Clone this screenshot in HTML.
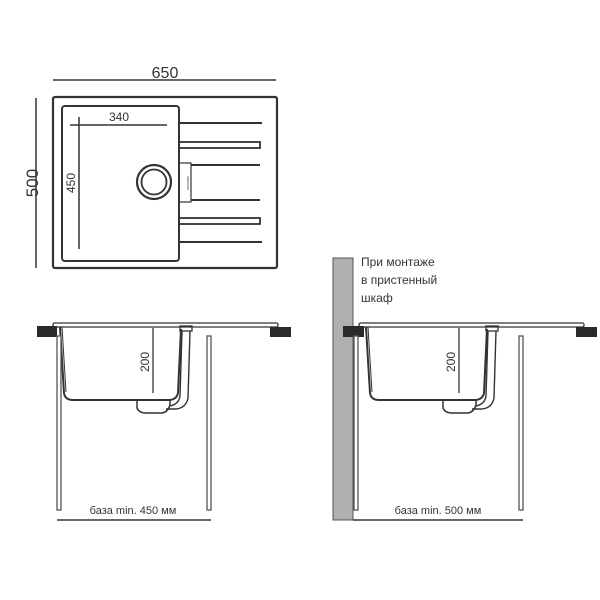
<!DOCTYPE html>
<html><head><meta charset="utf-8"><style>
html,body{margin:0;padding:0;background:#fff;width:600px;height:600px;overflow:hidden}
svg{display:block}
text{font-family:"Liberation Sans",sans-serif;fill:#333}
</style></head><body>
<svg width="600" height="600" viewBox="0 0 600 600" xmlns="http://www.w3.org/2000/svg">
<g stroke="#333" fill="none">
<!-- top view -->
<line x1="53" y1="80" x2="276" y2="80" stroke-width="1.5"/>
<line x1="36" y1="98" x2="36" y2="268" stroke-width="1.5"/>
<rect x="53" y="97" width="224" height="171" rx="2" stroke-width="2.2"/>
<rect x="62" y="106" width="117" height="155" rx="3" stroke-width="2"/>
<line x1="70" y1="125" x2="167" y2="125" stroke-width="1.5"/>
<line x1="79" y1="117" x2="79" y2="249" stroke-width="1.5"/>
<circle cx="154" cy="182" r="17" stroke-width="2.2"/>
<circle cx="154" cy="182" r="12.5" stroke-width="1.8"/>
<line x1="179" y1="123" x2="262" y2="123" stroke-width="2"/>
<rect x="179" y="142" width="81" height="6" stroke-width="1.8"/>
<line x1="191" y1="165" x2="260" y2="165" stroke-width="2"/>
<rect x="179" y="163" width="12" height="39" stroke-width="1.2"/>
<line x1="191" y1="200" x2="260" y2="200" stroke-width="2"/>
<rect x="179" y="218" width="81" height="6" stroke-width="1.8"/>
<line x1="179" y1="242" x2="262" y2="242" stroke-width="2"/>
</g>
<text x="165" y="78" font-size="16" text-anchor="middle">650</text>
<text transform="translate(38,183) rotate(-90)" font-size="17" text-anchor="middle">500</text>
<text x="119" y="121" font-size="12" text-anchor="middle">340</text>
<text transform="translate(75,183) rotate(-90)" font-size="12" text-anchor="middle">450</text>
<text transform="translate(187,183) rotate(90)" font-size="3" text-anchor="middle">OMOIKIRI</text>

<!-- side view left -->
<g id="side" stroke="#333" fill="none">
<rect x="53" y="323" width="225" height="4" rx="1.5" stroke-width="1.3"/>
<rect x="37" y="326" width="20" height="11" fill="#2a2a2a" stroke="none"/>
<rect x="270" y="327" width="21" height="10" fill="#2a2a2a" stroke="none"/>
<path d="M60 327 L64 393 Q65 400 73 400 L170 400 Q177 399 178 393 L181 329" stroke-width="2"/>
<path d="M62 327 L66 392" stroke-width="1"/>
<path d="M137 401 L137 408 Q139 413 146 413 L162 413 Q168 412 170 405 L170 401" stroke-width="1.5"/>
<rect x="180" y="326" width="12" height="5" stroke-width="1.3"/>
<path d="M182 331 L180 396 Q179 404 170 406 M190 331 L188 398 Q186 408 176 409 L166 409" stroke-width="1.4"/>
<line x1="153" y1="328" x2="153" y2="393" stroke-width="1.3"/>
</g>
<text transform="translate(149,362) rotate(-90)" font-size="12" text-anchor="middle">200</text>
<g stroke="#555" fill="#fff" stroke-width="1.3">
<rect x="57" y="336" width="4" height="174"/>
<rect x="207" y="336" width="4" height="174"/>
</g>
<line x1="57" y1="520" x2="211" y2="520" stroke="#333" stroke-width="1.5"/>
<text x="133" y="514" font-size="11" text-anchor="middle">база min. 450 мм</text>

<!-- right view -->
<rect x="333" y="258" width="20" height="262" fill="#b0b0b0" stroke="#555" stroke-width="1"/>
<use href="#side" transform="translate(306,0)"/>
<rect x="350" y="326" width="14" height="11" fill="#2a2a2a"/>
<text transform="translate(455,362) rotate(-90)" font-size="12" text-anchor="middle">200</text>
<g stroke="#555" fill="#fff" stroke-width="1.3">
<rect x="354" y="336" width="4" height="174"/>
<rect x="519" y="336" width="4" height="174"/>
</g>
<line x1="353" y1="520" x2="523" y2="520" stroke="#333" stroke-width="1.5"/>
<text x="438" y="514" font-size="11" text-anchor="middle">база min. 500 мм</text>
<text x="361" y="266" font-size="12">При монтаже</text>
<text x="361" y="284" font-size="12">в пристенный</text>
<text x="361" y="302" font-size="12">шкаф</text>
</svg>
</body></html>
